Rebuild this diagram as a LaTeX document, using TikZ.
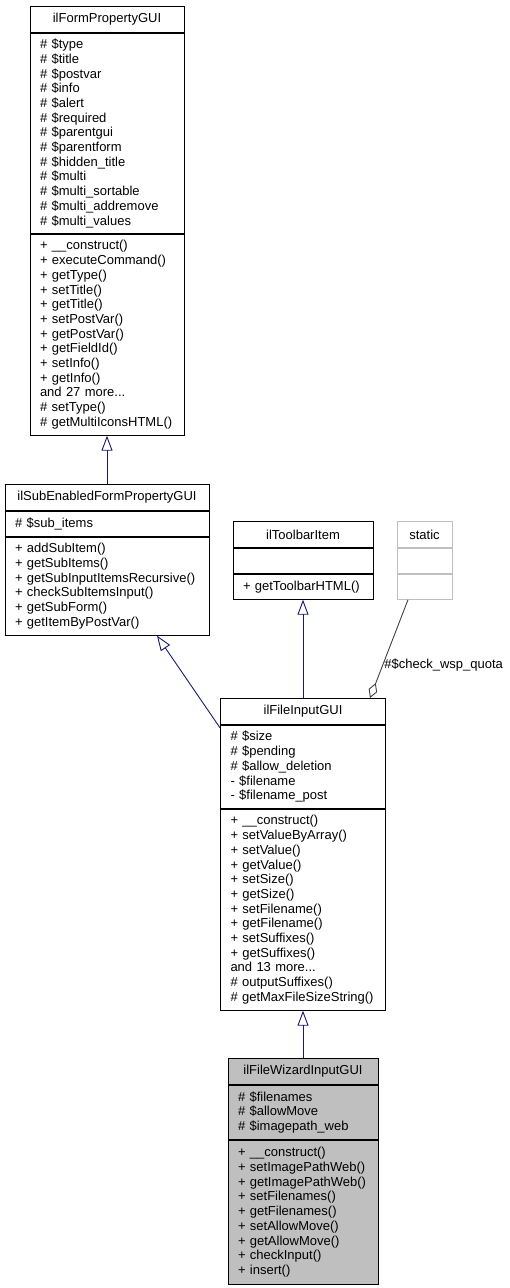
\documentclass[tikz,border=0pt]{standalone}
\usepackage{fontspec}
\setmainfont{Liberation Sans}
\usetikzlibrary{arrows.meta,positioning}

\definecolor{umlblue}{HTML}{191970}
\definecolor{umlgray}{HTML}{404040}
\definecolor{umlshade}{HTML}{BFBFBF}

\tikzset{
  umlbox/.style={draw, line width=0.9pt, inner xsep=10pt, inner ysep=0pt,
    anchor=north, align=left},
  umltitle/.style={umlbox, align=center, minimum height=26pt},
  inherit/.style={draw=umlblue, line width=0.9pt,
    -{Triangle[open,length=15pt,width=11pt]}},
  aggregate/.style={draw=umlgray, line width=0.9pt,
    -{Diamond[open,length=16pt,width=9pt]}}
}

\begin{document}
\begin{tikzpicture}[
  x=1pt, y=-1pt,
  every node/.style={font=\fontsize{13}{14.7}\selectfont}
]
\useasboundingbox (0,0) rectangle (510,1288);

% ilFormPropertyGUI
\node[umltitle, text width=134pt] (formprop) at (107,6) {ilFormPropertyGUI};
\node[umlbox, text width=134pt, minimum height=200pt, below=0pt of formprop] (formpropattr)
  {\# \$type\\\# \$title\\\# \$postvar\\\# \$info\\\# \$alert\\\# \$required\\
   \# \$parentgui\\\# \$parentform\\\# \$hidden\_title\\\# \$multi\\
   \# \$multi\_sortable\\\# \$multi\_addremove\\\# \$multi\_values};
\node[umlbox, text width=134pt, minimum height=201pt, below=0pt of formpropattr] (formpropops)
  {+ \_\_construct()\\+ executeCommand()\\+ getType()\\+ setTitle()\\+ getTitle()\\
   + setPostVar()\\+ getPostVar()\\+ getFieldId()\\+ setInfo()\\+ getInfo()\\
   and 27 more...\\\# setType()\\\# getMultiIconsHTML()};

% ilSubEnabledFormPropertyGUI
\node[umltitle, text width=184pt] (subenabled) at (107,484) {ilSubEnabledFormPropertyGUI};
\node[umlbox, text width=184pt, minimum height=25pt, below=0pt of subenabled] (subenabledattr)
  {\# \$sub\_items};
\node[umlbox, text width=184pt, minimum height=98pt, below=0pt of subenabledattr] (subenabledops)
  {+ addSubItem()\\+ getSubItems()\\+ getSubInputItemsRecursive()\\
   + checkSubItemsInput()\\+ getSubForm()\\+ getItemByPostVar()};

% ilToolbarItem
\node[umltitle, text width=120pt] (toolbar) at (303,521) {ilToolbarItem};
\node[umlbox, text width=120pt, minimum height=25pt, below=0pt of toolbar] (toolbarattr) {};
\node[umlbox, text width=120pt, minimum height=25pt, below=0pt of toolbarattr] (toolbarops)
  {+ getToolbarHTML()};

% static
\node[umltitle, draw=umlshade, text width=35pt] (static) at (424.5,521) {static};
\node[umlbox, draw=umlshade, text width=35pt, minimum height=25pt, below=0pt of static] (staticattr) {};
\node[umlbox, draw=umlshade, text width=35pt, minimum height=25pt, below=0pt of staticattr] (staticops) {};

% ilFileInputGUI
\node[umltitle, text width=145pt] (fileinput) at (303,698) {ilFileInputGUI};
\node[umlbox, text width=145pt, minimum height=83pt, below=0pt of fileinput] (fileinputattr)
  {\# \$size\\\# \$pending\\\# \$allow\_deletion\\- \$filename\\- \$filename\_post};
\node[umlbox, text width=145pt, minimum height=201pt, below=0pt of fileinputattr] (fileinputops)
  {+ \_\_construct()\\+ setValueByArray()\\+ setValue()\\+ getValue()\\+ setSize()\\
   + getSize()\\+ setFilename()\\+ getFilename()\\+ setSuffixes()\\+ getSuffixes()\\
   and 13 more...\\\# outputSuffixes()\\\# getMaxFileSizeString()};

% ilFileWizardInputGUI
\node[umltitle, fill=umlshade, text width=130pt] (wizard) at (303,1058) {ilFileWizardInputGUI};
\node[umlbox, fill=umlshade, text width=130pt, minimum height=54pt, below=0pt of wizard] (wizardattr)
  {\# \$filenames\\\# \$allowMove\\\# \$imagepath\_web};
\node[umlbox, fill=umlshade, text width=130pt, minimum height=144pt, below=0pt of wizardattr] (wizardops)
  {+ \_\_construct()\\+ setImagePathWeb()\\+ getImagePathWeb()\\+ setFilenames()\\
   + getFilenames()\\+ setAllowMove()\\+ getAllowMove()\\+ checkInput()\\+ insert()};

% inheritance
\draw[inherit] (subenabled.north) -- (formpropops.south);
\draw[inherit] ([yshift=-3pt]fileinput.south west) -- ([xshift=50pt]subenabledops.south);
\draw[inherit] (fileinput.north) -- (toolbarops.south);
\draw[inherit] (wizard.north) -- (fileinputops.south);

% usage
\draw[aggregate] ([xshift=-16.5pt]staticops.south) -- ([xshift=67pt]fileinput.north)
  node[pos=0.66, anchor=west, inner sep=1pt] {\#\$check\_wsp\_quota};
\end{tikzpicture}
\end{document}
